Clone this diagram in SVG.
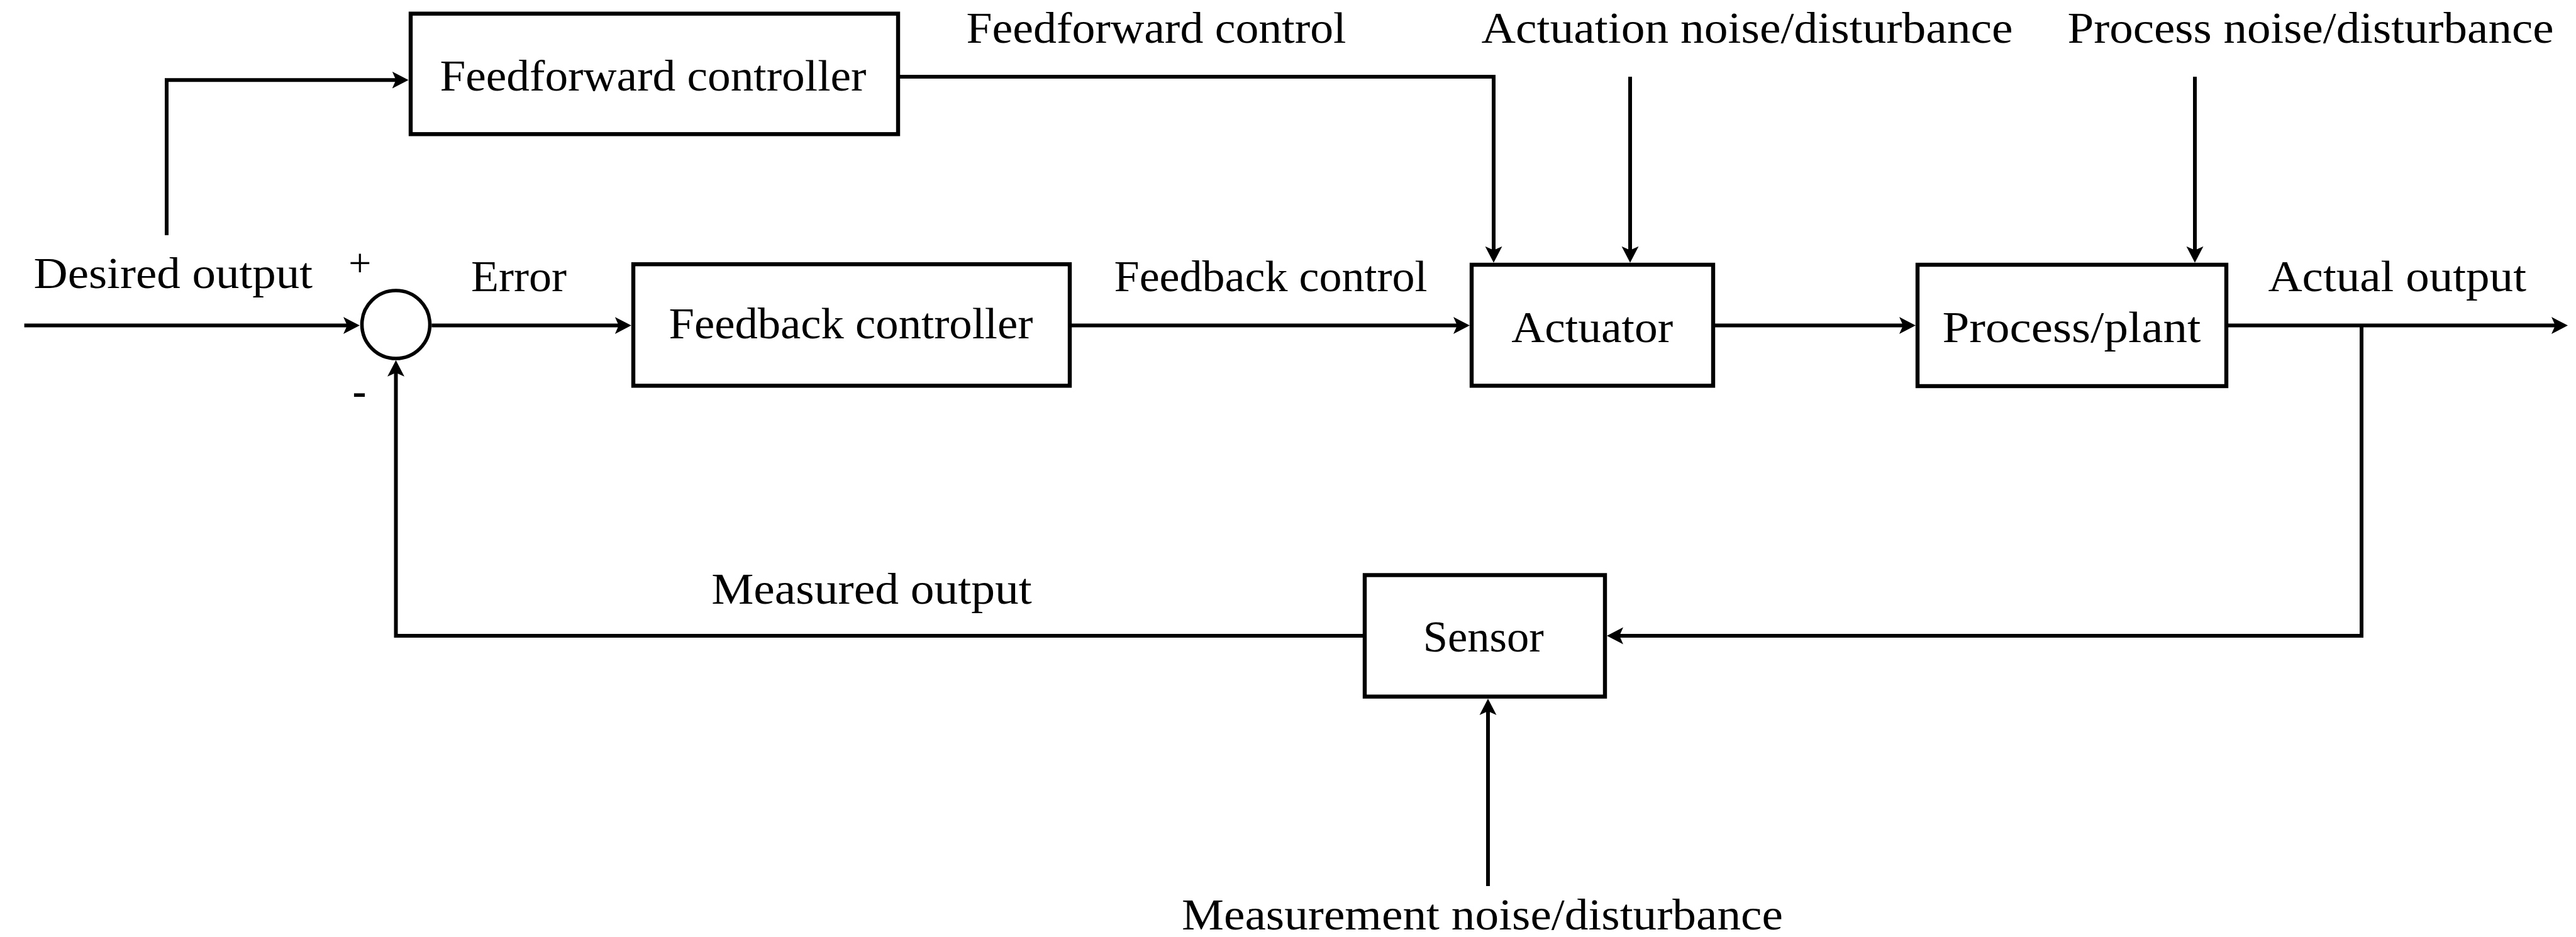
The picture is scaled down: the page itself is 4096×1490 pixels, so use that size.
<svg xmlns="http://www.w3.org/2000/svg" width="4096" height="1490" viewBox="0 0 4096 1490">
<style>
.box{fill:#fff;stroke:#000;stroke-width:6.4}
.sum{fill:#fff;stroke:#000;stroke-width:5.6}
.ln{fill:none;stroke:#000;stroke-width:6;stroke-linejoin:miter;stroke-linecap:butt;marker-end:url(#arr)}
.pl{fill:none;stroke:#000;stroke-width:6;stroke-linejoin:miter;stroke-linecap:butt}
text{font-family:"Liberation Serif","Times New Roman",serif;font-size:70px;fill:#000;text-anchor:middle}
.sign{font-size:64px}
.minus{font-size:66px;font-weight:bold}
</style>
<defs>
<marker id="arr" markerUnits="userSpaceOnUse" viewBox="0 -15 28 30" refX="8" refY="0" markerWidth="28" markerHeight="30" orient="auto">
<path d="M26,0 L0,-13.5 L6,0 L0,13.5 Z" fill="#000"/>
</marker>
</defs>
<rect width="4096" height="1490" fill="#fff"/>
<g id="connectors">
<path class="ln" d="M38.6,517.6 H554"/>
<path class="ln" d="M265,374 V127.2 H631.6"/>
<path class="ln" d="M686.3,517.6 H985.8"/>
<path class="ln" d="M1701,517.6 H2319"/>
<path class="ln" d="M2724,517.6 H3028"/>
<path class="ln" d="M3540,517.6 H4065"/>
<path class="ln" d="M3755,517.6 V1011 H2573"/>
<path class="ln" d="M2170,1011 H629.5 V590.8"/>
<path class="ln" d="M1428,122 H2375 V399.8"/>
<path class="ln" d="M2592,122 V399.8"/>
<path class="ln" d="M3490,122 V399.8"/>
<path class="ln" d="M2366,1409 V1129"/>
</g>
<g id="labels">
<text x="275.3" y="458" textLength="443.6" lengthAdjust="spacingAndGlyphs">Desired output</text>
<text class="sign" x="572.4" y="440">+</text>
<text class="minus" x="571.5" y="644">-</text>
<text x="825" y="462.9" textLength="152" lengthAdjust="spacingAndGlyphs">Error</text>
<text x="2020.6" y="462.9" textLength="498" lengthAdjust="spacingAndGlyphs">Feedback control</text>
<text x="3811.7" y="462.9" textLength="410.6" lengthAdjust="spacingAndGlyphs">Actual output</text>
<text x="1838.6" y="67.6" textLength="604" lengthAdjust="spacingAndGlyphs">Feedforward control</text>
<text x="2778" y="67.6" textLength="845" lengthAdjust="spacingAndGlyphs">Actuation noise/disturbance</text>
<text x="3674" y="67.6" textLength="773" lengthAdjust="spacingAndGlyphs">Process noise/disturbance</text>
<text x="1386" y="959.6" textLength="509.6" lengthAdjust="spacingAndGlyphs">Measured output</text>
<text x="2357" y="1478" textLength="956" lengthAdjust="spacingAndGlyphs">Measurement noise/disturbance</text>
</g>
<g id="sum">
<circle class="sum" cx="629.5" cy="516" r="54"/>
</g>
<g id="feedforward-controller">
<rect class="box" x="653" y="21.7" width="775" height="191.6"/>
<text x="1038.5" y="144.1" textLength="678" lengthAdjust="spacingAndGlyphs">Feedforward controller</text>
</g>
<g id="feedback-controller">
<rect class="box" x="1007" y="420.2" width="694" height="193.2"/>
<text x="1353" y="537.7" textLength="579" lengthAdjust="spacingAndGlyphs">Feedback controller</text>
</g>
<g id="actuator">
<rect class="box" x="2340" y="421" width="384" height="192.4"/>
<text x="2531.7" y="544.2" textLength="257" lengthAdjust="spacingAndGlyphs">Actuator</text>
</g>
<g id="process">
<rect class="box" x="3049" y="421" width="491" height="193"/>
<text x="3294" y="544.2" textLength="411" lengthAdjust="spacingAndGlyphs">Process/plant</text>
</g>
<g id="sensor">
<rect class="box" x="2170" y="914.5" width="382" height="193.2"/>
<text x="2358.7" y="1036" textLength="192" lengthAdjust="spacingAndGlyphs">Sensor</text>
</g>
</svg>
